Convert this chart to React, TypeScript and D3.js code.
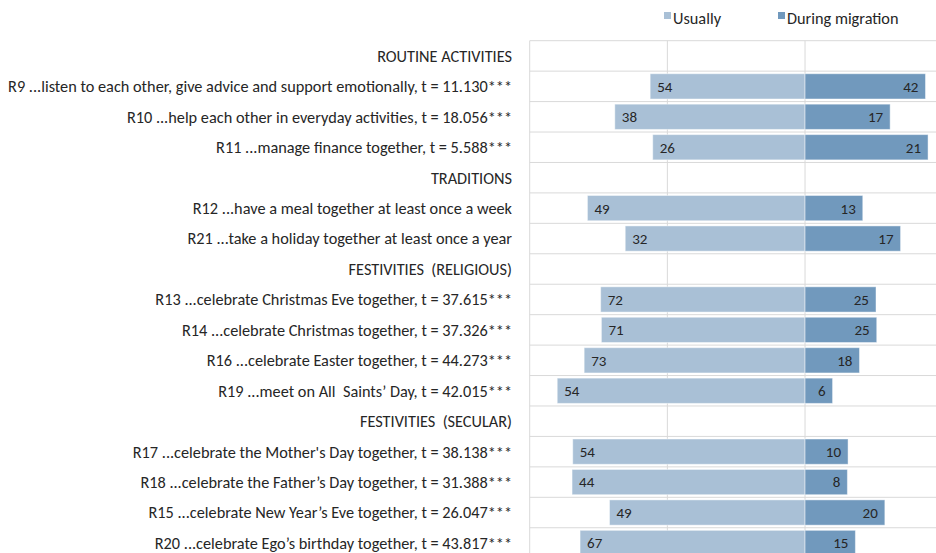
import React from "react";
import * as d3 from "d3";

const rowLabels = [
  "ROUTINE ACTIVITIES",
  "R9 ...listen to each other, give advice and support emotionally, t = 11.130***",
  "R10 ...help each other in everyday activities, t = 18.056***",
  "R11 ...manage finance together, t = 5.588***",
  "TRADITIONS",
  "R12 ...have a meal together at least once a week",
  "R21 ...take a holiday together at least once a year",
  "FESTIVITIES  (RELIGIOUS)",
  "R13 ...celebrate Christmas Eve together, t = 37.615***",
  "R14 ...celebrate Christmas together, t = 37.326***",
  "R16 ...celebrate Easter together, t = 44.273***",
  "R19 ...meet on All  Saints\u2019 Day, t = 42.015***",
  "FESTIVITIES  (SECULAR)",
  "R17 ...celebrate the Mother's Day together, t = 38.138***",
  "R18 ...celebrate the Father\u2019s Day together, t = 31.388***",
  "R15 ...celebrate New Year\u2019s Eve together, t = 26.047***",
  "R20 ...celebrate Ego\u2019s birthday together, t = 43.817***",
];

const usually: (number | null)[] = [null, 54, 38, 26, null, 49, 32, null, 72, 71, 73, 54, null, 54, 44, 49, 67];
const duringMigration: (number | null)[] = [null, 42, 17, 21, null, 13, 17, null, 25, 25, 18, 6, null, 10, 8, 20, 15];

const seriesNames = ["Usually", "During migration"];
const gridTicks = [-100, -50, 0, 50];

const COLORS = ["#A9C0D6", "#7199BD"];
const FONT = "Calibri, Carlito, Lato, 'Open Sans', sans-serif";

export default function App() {
  const W = 936;
  const H = 553;
  const top = 40.7;
  const step = 30.44;
  const n = rowLabels.length;

  const x = d3.scaleLinear().domain([-100, 50]).range([529.7, 942.7]);
  const y = d3
    .scaleBand<number>()
    .domain(d3.range(n))
    .range([top, top + n * step])
    .paddingInner(0.17)
    .paddingOuter(0.085);

  const rows = d3.range(n).map((i) => {
    const u = usually[i];
    const m = duringMigration[i];
    if (u == null || m == null) return null;
    const total = u + m;
    return { i, u, m, uShare: (u / total) * 100, mShare: (m / total) * 100 };
  });

  return (
    <svg
      width={W}
      height={H}
      style={{ position: "absolute", left: 0, top: 0, background: "#fff" }}
      fontFamily={FONT}
    >
      {d3.range(n + 1).map((i) => (
        <line
          key={"h" + i}
          x1={x(-100)}
          x2={W}
          y1={top + i * step}
          y2={top + i * step}
          stroke="#D9D9D9"
          strokeWidth={1}
        />
      ))}
      {gridTicks.map((t) => (
        <line
          key={"v" + t}
          x1={x(t)}
          x2={x(t)}
          y1={top}
          y2={top + n * step}
          stroke="#D9D9D9"
          strokeWidth={1}
        />
      ))}

      {rows.map((r) =>
        r ? (
          <g key={"b" + r.i}>
            <rect
              x={x(-r.uShare)}
              y={y(r.i)}
              width={x(0) - x(-r.uShare)}
              height={y.bandwidth()}
              fill={COLORS[0]}
              stroke="#ffffff"
              strokeOpacity={0.45}
              strokeWidth={1}
            />
            <rect
              x={x(0)}
              y={y(r.i)}
              width={x(r.mShare) - x(0)}
              height={y.bandwidth()}
              fill={COLORS[1]}
              stroke="#ffffff"
              strokeOpacity={0.45}
              strokeWidth={1}
            />
            <text
              x={x(-r.uShare) + 7}
              y={(y(r.i) as number) + y.bandwidth() / 2}
              dy="0.36em"
              fontSize={15}
              fill="#262626"
            >
              {r.u}
            </text>
            <text
              x={x(r.mShare) - 7}
              y={(y(r.i) as number) + y.bandwidth() / 2}
              dy="0.36em"
              textAnchor="end"
              fontSize={15}
              fill="#262626"
            >
              {r.m}
            </text>
          </g>
        ) : null
      )}

      {rowLabels.map((lab, i) => (
        <text
          key={"l" + i}
          x={512}
          y={top + i * step + step / 2}
          dy="0.36em"
          textAnchor="end"
          fontSize={16.3}
          fill="#262626"
          style={{ whiteSpace: "pre" }}
        >
          {lab}
        </text>
      ))}

      {seriesNames.map((s, k) => {
        const lx = k === 0 ? 664 : 778;
        return (
          <g key={"lg" + k}>
            <rect x={lx} y={12} width={7} height={7} fill={COLORS[k]} />
            <text x={lx + 9} y={18} dy="0.36em" fontSize={16.3} fill="#262626">
              {s}
            </text>
          </g>
        );
      })}
    </svg>
  );
}
